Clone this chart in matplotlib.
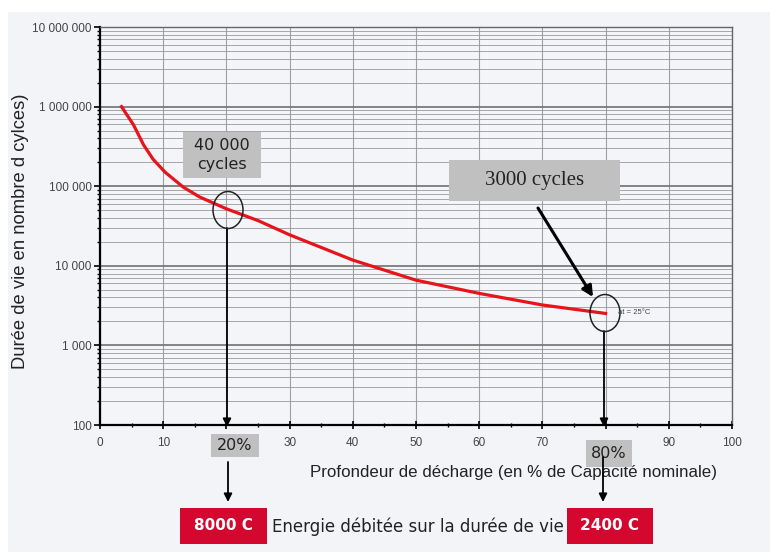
import matplotlib
matplotlib.use("Agg")
import matplotlib.pyplot as plt
import matplotlib.patches as mpatches
from matplotlib.ticker import FixedLocator, LogLocator, FuncFormatter, NullFormatter

# ---- data ----
depth = [3.4, 5.3, 6.9, 8.4, 10.3, 13.2, 15.8, 20, 25, 30, 40, 50, 60, 70, 80]
cycles = [1000000, 590000, 330000, 218000, 150000, 97000, 73000, 52000, 37000, 24500,
          11800, 6600, 4500, 3220, 2520]
x_ticks = [0, 10, 20, 30, 40, 50, 60, 70, 80, 90, 100]
x_tick_labels = ["0", "10", "", "30", "40", "50", "60", "70", "", "90", "100"]  # 20 & 80 hidden under boxes
y_ticks = [100, 1000, 10000, 100000, 1000000, 10000000]
x_label = "Profondeur de décharge (en % de Capacité nominale)"
y_label = "Durée de vie en nombre d cylces)"
box_40k = "40 000\ncycles"
box_3000 = "3000 cycles"
temp_note = "at = 25°C"
pct_left, pct_right = "20%", "80%"
energy_left, energy_right = "8000 C", "2400 C"
energy_text = "Energie débitée sur la durée de vie"

W, H = 779, 552
fig = plt.figure(figsize=(W / 100, H / 100), dpi=100)
fig.patch.set_facecolor("white")

def fx(x):
    return x / W

def fy(y):
    return 1 - y / H

# background panel
fig.patches.append(mpatches.Rectangle((fx(8), 0), fx(770) - fx(8), fy(12),
                                      transform=fig.transFigure, facecolor="#f2f4f7",
                                      edgecolor="none", zorder=-5))

ax = fig.add_axes([fx(100), fy(425), fx(732) - fx(100), fy(27) - fy(425)])
ax.set_zorder(1)
ax.set_facecolor("#f3f5f8")
ax.set_yscale("log")
ax.set_xlim(0, 100)
ax.set_ylim(100, 1e7)

ax.xaxis.set_major_locator(FixedLocator(x_ticks))
ax.set_xticklabels(x_tick_labels)
ax.xaxis.set_minor_locator(FixedLocator([5, 15, 25, 35, 45, 55, 65, 75, 85, 95]))
ax.yaxis.set_major_locator(FixedLocator(y_ticks))
ax.yaxis.set_minor_locator(LogLocator(base=10, subs=range(2, 10)))
ax.yaxis.set_minor_formatter(NullFormatter())
ax.yaxis.set_major_formatter(FuncFormatter(lambda v, p: f"{int(round(v)):,}".replace(",", " ")))

ax.grid(True, which="major", axis="y", color="#707070", lw=1.2)
ax.grid(True, which="minor", axis="y", color="#9a9a9a", lw=0.6)
ax.grid(True, which="major", axis="x", color="#a0a0a0", lw=0.8)
ax.set_axisbelow(True)

for s in ["left", "bottom"]:
    ax.spines[s].set_color("black")
    ax.spines[s].set_linewidth(1.6)
for s in ["top", "right"]:
    ax.spines[s].set_color("#666666")
    ax.spines[s].set_linewidth(1.0)

ax.tick_params(axis="both", which="major", labelsize=8.5, labelcolor="#444444",
               length=4, width=1.2, color="black")
ax.tick_params(axis="y", which="major", pad=2)
ax.tick_params(axis="y", which="minor", length=2.5, width=1, color="black")
ax.tick_params(axis="x", which="minor", length=3, width=1, color="black", direction="inout")
ax.tick_params(axis="x", which="major", direction="inout", length=6, pad=6)
for lab in ax.get_xticklabels() + ax.get_yticklabels():
    lab.set_fontfamily("Liberation Sans")

ax.plot(depth, cycles, color="#e8141c", lw=2.3, zorder=5, solid_joinstyle="round")

fig.text(fx(513), fy(472), x_label, ha="center", va="center", fontsize=12.2,
         fontfamily="Liberation Sans", color="#222222", zorder=3)
fig.text(fx(21), fy(231), y_label, rotation=90, ha="center", va="center",
         fontsize=13.2, fontfamily="Liberation Sans", color="#222222")

# ellipses
for (cx, cy) in [(228, 210), (605, 313)]:
    fig.patches.append(mpatches.Ellipse((fx(cx), fy(cy)), 30 / W, 37 / H,
                                        transform=fig.transFigure, fill=False,
                                        edgecolor="#222222", lw=1.1, zorder=6))

fig.text(fx(618), fy(313), temp_note, fontsize=5.5, color="#444444", va="center",
         fontfamily="Liberation Sans", zorder=6)

arrow_kw = dict(arrowstyle="-|>", color="black", lw=1.3, mutation_scale=12, shrinkA=0, shrinkB=0)
# vertical arrows from circles to axis
fig.add_artist(mpatches.FancyArrowPatch((fx(227), fy(228)), (fx(227), fy(427)),
                                        transform=fig.transFigure, zorder=6, **arrow_kw))
fig.add_artist(mpatches.FancyArrowPatch((fx(604), fy(331)), (fx(604), fy(427)),
                                        transform=fig.transFigure, zorder=6, **arrow_kw))
# big arrow from 3000 cycles
fig.add_artist(mpatches.FancyArrowPatch((fx(538), fy(208)), (fx(593), fy(297)),
                                        transform=fig.transFigure,
                                        arrowstyle="-|>", color="black", lw=2.2,
                                        mutation_scale=16, shrinkA=0, shrinkB=0, zorder=6))

def gray_box(x0, y0, x1, y1, text, **kw):
    fig.patches.append(mpatches.Rectangle((fx(x0), fy(y1)), fx(x1) - fx(x0), fy(y0) - fy(y1),
                                          transform=fig.transFigure, facecolor="#c0c0c0",
                                          edgecolor="none", zorder=7))
    fig.text(fx((x0 + x1) / 2), fy((y0 + y1) / 2), text, ha="center", va="center",
             color="#222222", zorder=8, **kw)

gray_box(183, 132, 261, 178, box_40k, fontsize=11.5, fontfamily="DejaVu Sans", linespacing=1.25)
gray_box(449, 160, 620, 201, box_3000, fontsize=15, fontfamily="Liberation Serif")
gray_box(211, 434, 259, 457, pct_left, fontsize=11.5, fontfamily="DejaVu Sans")
gray_box(586, 440, 632, 467, pct_right, fontsize=11.5, fontfamily="DejaVu Sans")

# arrows down to energy boxes
fig.add_artist(mpatches.FancyArrowPatch((fx(228), fy(462)), (fx(228), fy(502)),
                                        transform=fig.transFigure, zorder=9, **arrow_kw))
fig.add_artist(mpatches.FancyArrowPatch((fx(603), fy(457)), (fx(603), fy(502)),
                                        transform=fig.transFigure, zorder=9, **arrow_kw))

def red_box(x0, y0, x1, y1, text):
    fig.patches.append(mpatches.Rectangle((fx(x0), fy(y1)), fx(x1) - fx(x0), fy(y0) - fy(y1),
                                          transform=fig.transFigure, facecolor="#d4082f",
                                          edgecolor="none", zorder=7))
    fig.text(fx((x0 + x1) / 2), fy((y0 + y1) / 2), text, ha="center", va="center",
             color="white", fontsize=11, fontweight="bold", fontfamily="DejaVu Sans", zorder=8)

red_box(180, 508, 267, 544, energy_left)
red_box(567, 508, 653, 544, energy_right)
fig.text(fx(272), fy(527), energy_text, ha="left", va="center", fontsize=12,
         fontfamily="DejaVu Sans", color="#222222", zorder=8)

fig.savefig("out.png", dpi=100)
